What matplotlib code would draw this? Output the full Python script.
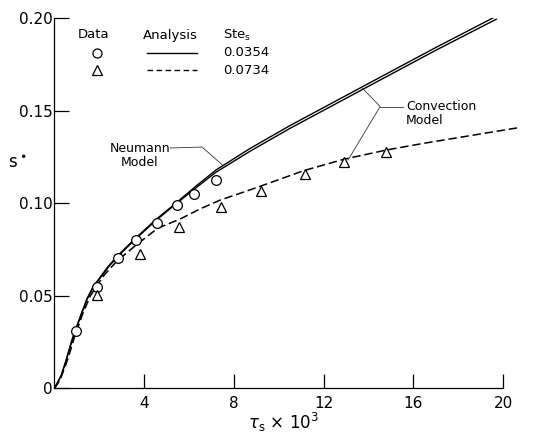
import numpy as np
import matplotlib
matplotlib.use("Agg")
import matplotlib.pyplot as plt

# data (tau_s x 10^3 , s*)
tau_circ = [0.95, 1.88, 2.84, 3.63, 4.55, 5.45, 6.22, 7.22]
s_circ = [0.031, 0.0545, 0.0705, 0.080, 0.0895, 0.099, 0.105, 0.1126]

tau_tri = [1.9, 3.82, 5.53, 7.41, 9.19, 11.15, 12.93, 14.8]
s_tri = [0.0505, 0.0724, 0.0874, 0.0978, 0.1068, 0.1158, 0.1223, 0.1279]

# Neumann model, Ste = 0.0354
tau_neu = [0, 0.3, 0.5, 0.8, 1.2, 1.45, 1.7, 2.0, 2.4, 2.8, 3.6, 4.5, 5.4, 6.3, 7.2, 8.7, 10.5, 12.5,
           14.5, 17, 19.6]
s_neu = [0, 0.007, 0.0145, 0.027, 0.0405, 0.0485, 0.0545, 0.0595, 0.066, 0.0715, 0.081, 0.091, 0.100,
         0.1092, 0.118, 0.1295, 0.142, 0.155, 0.168, 0.1842, 0.2005]

# convection model, Ste = 0.0354
tau_conv = [0, 0.3, 0.5, 0.8, 1.2, 1.45, 1.7, 2.0, 2.4, 2.8, 3.6, 4.5, 5.4, 6.3, 7.2, 8.7, 10.5, 12.5,
            14.5, 17, 19.7]
s_conv = [0, 0.0068, 0.0142, 0.0265, 0.040, 0.048, 0.054, 0.059, 0.0655, 0.071, 0.0805, 0.0905, 0.0995,
          0.1083, 0.1168, 0.128, 0.1405, 0.1535, 0.1665, 0.1827, 0.1995]

# convection model, Ste = 0.0734
tau_dash = [0, 0.25, 0.6, 0.9, 1.25, 1.6, 2.2, 2.8, 3.7, 4.6, 5.6, 6.5, 7.4, 8.3, 9.2, 11.1, 12.9, 14.8,
            16.5, 18.5, 20.7]
s_dash = [0, 0.0045, 0.016, 0.028, 0.040, 0.050, 0.061, 0.069, 0.078, 0.0865, 0.0915, 0.097, 0.1018,
          0.1055, 0.1093, 0.1176, 0.1238, 0.1288, 0.1325, 0.1365, 0.1409]

xticks = [4, 8, 12, 16, 20]
yticks = [0, 0.05, 0.10, 0.15, 0.20]
ylabels = ['0', '0.05', '0.10', '0.15', '0.20']

fig = plt.figure(figsize=(5.38, 4.42), dpi=100)
ax = fig.add_axes([0.1013, 0.1215, 0.8337, 0.8371])

ax.plot(tau_neu, s_neu, color='black', lw=1.0)
ax.plot(tau_conv, s_conv, color='black', lw=1.0)
ax.plot(tau_dash, s_dash, color='black', lw=1.1, linestyle=(0, (5.5, 2.5)), clip_on=False)
ax.plot(tau_circ, s_circ, 'o', ms=7, mfc='white', mec='black', mew=0.9)
ax.plot(tau_tri, s_tri, '^', ms=7, mfc='white', mec='black', mew=0.9)

ax.set_xlim(0, 20)
ax.set_ylim(0, 0.20)
ax.set_xticks(xticks)
ax.set_yticks(yticks)
ax.set_yticklabels(ylabels)
for sp in ['top', 'right']:
    ax.spines[sp].set_visible(False)
ax.spines['left'].set_linewidth(0.9)
ax.spines['bottom'].set_linewidth(0.9)
ax.tick_params(axis='x', direction='in', length=10, width=0.9, pad=5.5, labelsize=11)
ax.tick_params(axis='y', direction='in', length=11, width=0.9, pad=1.5, labelsize=11)

# leader lines and model labels
ax.plot([5.16, 6.58, 7.47], [0.1299, 0.1304, 0.1209], color='#333333', lw=0.6)
ax.text(3.81, 0.126, 'Neumann\nModel', ha='center', va='center', fontsize=9, linespacing=1.1)
ax.plot([13.72, 14.52, 13.09], [0.1623, 0.1523, 0.1234], color='#333333', lw=0.6)
ax.plot([14.52, 15.55], [0.1523, 0.1523], color='#333333', lw=0.6)
ax.text(15.68, 0.1483, 'Convection\nModel', ha='left', va='center', fontsize=9, linespacing=1.1)

# legend table
fs = 9.5
fig.text(94 / 538, 1 - 35 / 442, 'Data', ha='center', va='center', fontsize=fs)
fig.text(170 / 538, 1 - 35 / 442, 'Analysis', ha='center', va='center', fontsize=fs)
fig.text(223 / 538, 1 - 35 / 442, 'Ste$_\\mathregular{s}$', ha='left', va='center', fontsize=fs)
rows = [('o', '-', '0.0354', 53), ('^', (0, (4, 2.5)), '0.0734', 70)]
for mk, ls, lab, py in rows:
    yf = 1 - py / 442
    fig.add_artist(plt.Line2D([97 / 538], [yf], marker=mk, ms=6.5, mfc='white', mec='black', mew=0.9,
                              linestyle='none'))
    fig.add_artist(plt.Line2D([147 / 538, 197 / 538], [yf, yf], color='black', lw=1.0, linestyle=ls))
    fig.text(223 / 538, yf, lab, ha='left', va='center', fontsize=fs)

fig.text(0.0316, 0.631, 's$^\\bullet$', ha='center', va='center', fontsize=12)
fig.text(0.526, 0.045, '$\\tau_\\mathregular{s}$ \u00d7 10$^\\mathregular{3}$', ha='center', va='center',
         fontsize=12)

fig.savefig('out.png', dpi=100)
